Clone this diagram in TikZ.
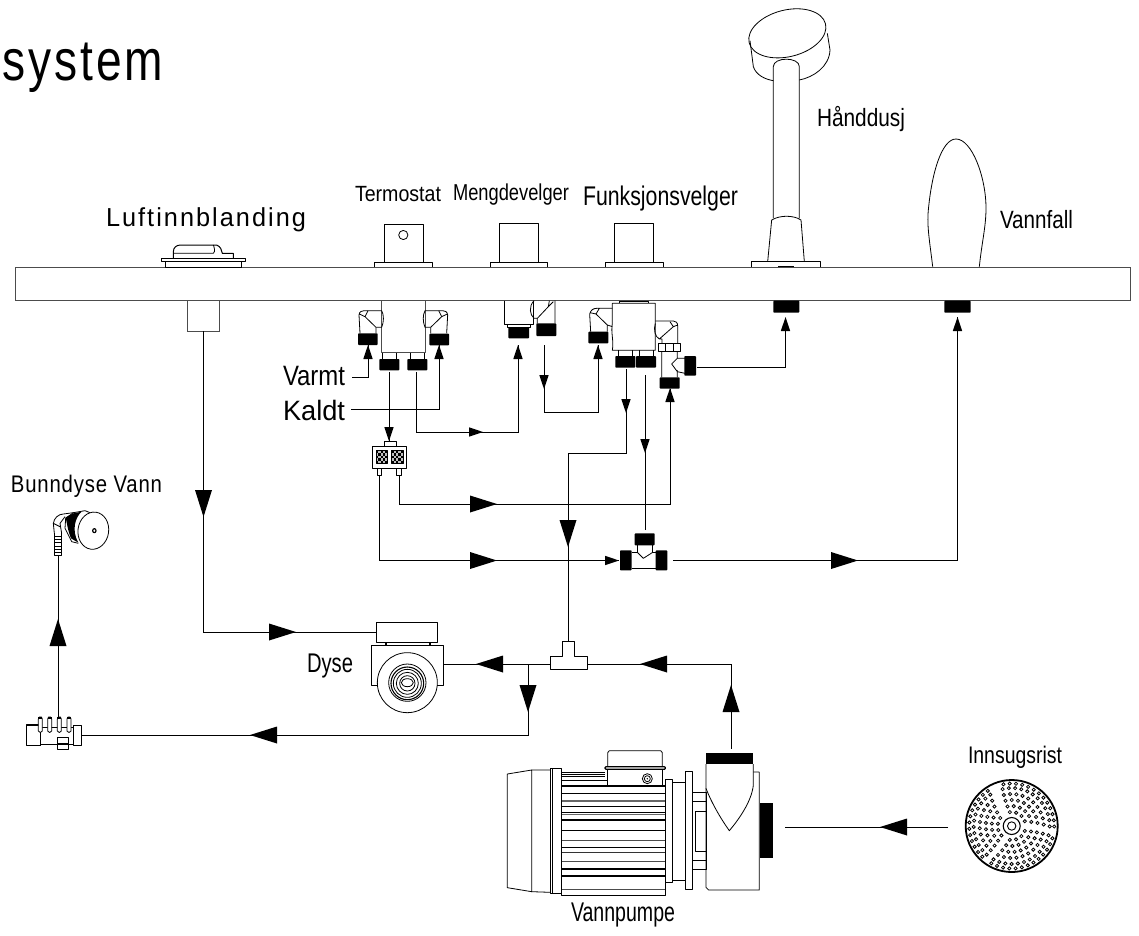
\documentclass[tikz,border=0pt]{standalone}
\usepackage{fontspec}
\setmainfont{Liberation Sans}
\usepackage{graphicx}
\newcommand{\lbl}[6][0]{\node[anchor=base west,inner sep=0pt,outer sep=0pt] (#2) at (#3) {\fontsize{#4}{#4}\selectfont\addfontfeature{LetterSpace=#1}\resizebox{#5pt}{\height}{#6}};}
\tikzset{
  conn/.style={line width=.85pt,black},
  part/.style={line width=.8pt,black,line join=round},
  barline/.style={line width=.9pt,black!70},
  nut/.style={fill=black,rounded corners=.8pt},
  fin/.style={line width=.9pt,black},
  bighead/.pic={\fill[black] (-27,-8.5)--(0,0)--(-27,8.5)--cycle;},
  smallhead/.pic={\fill[black] (-14,-4.7)--(0,0)--(-14,4.7)--cycle;},
  z/.style={shift={(#1)},scale=0.33333}
}
\begin{document}
\begin{tikzpicture}[x=1pt,y=-1pt]
\useasboundingbox (0,0) rectangle (1139,935);
% ---------- texts
\lbl[6]{tsys}{3,80}{58}{160}{system}
\lbl[8]{tluft}{106,226}{26}{200}{Luftinnblanding}
\lbl{tterm}{355,201}{22}{86}{Termostat}
\lbl{tmeng}{453,200}{23}{116}{Mengdevelger}
\lbl{tfunk}{583,205}{27}{155}{Funksjonsvelger}
\lbl{thand}{817,126}{25}{88}{Hånddusj}
\lbl{tvann}{1000,228}{25}{73}{Vannfall}
\lbl{tvarm}{283,385}{28}{62}{Varmt}
\lbl{tkald}{283,420}{28}{62}{Kaldt}
\lbl[4]{tbunn}{11,492}{24}{151}{Bunndyse Vann}
\lbl{tdyse}{307,672}{27}{46}{Dyse}
\lbl{tinns}{968,763}{24}{94}{Innsugsrist}
\lbl{tpump}{571,921}{27}{104}{Vannpumpe}
% ---------- deck
\draw[barline] (1130,267) -- (15,267) -- (15,300.7) -- (1130,300.7) -- cycle;
% ---------- air inlet
\begin{scope}[z={150,230}]
\draw[part,fill=white] (34,86) rectangle (286,94);
\draw[part] (47,94) rectangle (274,112);
\draw[part,line width=1pt] (70,86) -- (70,65) .. controls (70,52) and (80,45) .. (92,45) -- (200,45) .. controls (212,50) and (215,60) .. (217,70) -- (250,70) -- (250,86);
\draw[part] (70,70) -- (190,70) .. controls (197,65) and (192,50) .. (190,45);
\draw[barline] (113,212) -- (113,303) -- (207,303) -- (207,212);
\end{scope}
\coordinate (airout) at (203.5,331);
% ---------- knobs
\begin{scope}[part]
\draw (384,262) -- (384,224) -- (423,224) -- (423,262);
\draw (374,267) -- (374,262) -- (432,262) -- (432,267);
\draw (403.3,235) circle (4.6);
\draw (499,262) -- (499,223) -- (538,223) -- (538,262);
\draw (490,267) -- (490,262) -- (547,262) -- (547,267);
\draw (614,262) -- (614,223) -- (653,223) -- (653,262);
\draw (605,267) -- (605,262) -- (663,262) -- (663,267);
\end{scope}
% ---------- valves (zoom 340,190)
\begin{scope}[z={340,190}]
% Termostat
\draw[part,barline] (125,332) -- (125,488) -- (256,488) -- (256,332);
\draw[part] (128,488) -- (128,507) (170,488) -- (170,507) (212,488) -- (212,507) (252,488) -- (252,507);
\draw[part] (60,430) -- (57,375) .. controls (58,365) and (65,362) .. (72,362) -- (125,362) .. controls (132,375) and (132,395) .. (125,412) -- (108,412) -- (75,380) -- (58,372);
\draw[part] (75,380) -- (84,362) (108,412) -- (108,430);
\draw[part] (320,430) -- (323,375) .. controls (322,365) and (315,362) .. (308,362) -- (255,362) .. controls (248,375) and (248,395) .. (255,412) -- (272,412) -- (305,380) -- (322,372);
\draw[part] (305,380) -- (296,362) (272,412) -- (272,430);
\fill[nut] (54,430) rectangle (113,465);
\fill[nut] (268,431) rectangle (327,466);
\fill[nut] (118,507) rectangle (178,541);
\fill[nut] (202,507) rectangle (262,541);
% Mengdevelger
\draw[part] (492,332) -- (492,403) -- (579,403) -- (579,332);
\draw[part] (503,403) -- (503,412) -- (570,412) -- (570,403);
\fill[nut] (505,412) rectangle (567,445);
\draw[part] (582,332) .. controls (565,350) and (570,375) .. (582,385) -- (592,385) -- (592,400) (592,385) -- (625,350) -- (640,335) (645,332) -- (645,400) (625,350) -- (628,332);
\fill[nut] (589,400) rectangle (649,438);
% Funksjonsvelger
\draw[part] (838,340) -- (838,333) -- (925,333) -- (925,340);
\draw[part] (817,340) -- (946,340) -- (946,481) -- (817,481) .. controls (822,450) and (812,430) .. (817,400) -- cycle;
\draw[part] (835,481) -- (835,498) (877,481) -- (877,498) (898,481) -- (898,498) (940,481) -- (940,498);
\fill[nut] (826,498) rectangle (886,533);
\fill[nut] (888,498) rectangle (948,533);
\draw[part] (752,425) -- (749,372) .. controls (752,360) and (760,355) .. (770,355) -- (817,355) (817,410) -- (802,405) -- (768,372) -- (750,368) (768,372) -- (778,355) (802,405) -- (802,425);
\fill[nut] (745,425) rectangle (805,460);
\draw[part] (946,393) -- (1000,393) .. controls (1008,393) and (1013,398) .. (1013,408) -- (1013,460);
\draw[part] (946,400) .. controls (940,420) and (945,440) .. (958,447) -- (966,447) -- (966,460) (958,447) -- (1000,410) -- (1013,405) (1000,410) -- (990,395);
\draw[part] (955,460) rectangle (1022,485);
\draw[part] (977,460) -- (977,485) (1001,460) -- (1001,485);
\draw[part] (965,485) -- (965,562) (1012,485) -- (1012,505) -- (1035,505) (1012,540) -- (1012,562) (1012,505) -- (995,522) -- (1012,545) -- (1035,550);
\fill[nut] (959,562) rectangle (1019,596);
\fill[nut] (1033,498) rectangle (1068,557);
% divider
\draw[part] (97,768) rectangle (200,835);
\draw[part] (132,768) -- (132,755) -- (168,755) -- (168,768);
\draw[part] (113,835) -- (113,857) -- (125,857) -- (125,835);
\draw[part] (170,835) -- (170,857) -- (183,857) -- (183,835);
\foreach \ox in {108,154}{
  \fill[black!25] (\ox,782) rectangle ++(35,38);
  \draw[part] (\ox,782) rectangle ++(35,38);
  \foreach \i in {0,1,2,3,4}{\foreach \j in {0,1,2,3,4}{
    \pgfmathparse{int(mod(\i+\j,2))}
    \ifnum\pgfmathresult=0 \fill[black] (\ox+\i*7,782+\j*7.6) rectangle ++(7,7.6);\fi}}
}
\end{scope}
% ---------- hand shower and waterfall (zoom 730,0)
\begin{scope}[z={730,0}]
\draw[part] (65,800) -- (65,785) -- (272,785) -- (272,800);
\fill (145,798) rectangle (193,802);
\draw[part] (113,785) -- (125,660) .. controls (150,645) and (190,645) .. (213,660) -- (223,785);
\draw[part] (130,655) -- (130,200) .. controls (130,170) and (208,170) .. (208,200) -- (208,655);
\draw[part] (172,100) ellipse[x radius=118,y radius=70,rotate=14];
\draw[part] (60,122) -- (70,200) .. controls (78,225) and (105,238) .. (130,242);
\draw[part] (292,100) -- (300,150) .. controls (298,200) and (250,232) .. (208,240);
\draw[part] (608,800) .. controls (600,730) and (590,680) .. (595,630) .. controls (605,520) and (635,417) .. (678,417) .. controls (725,417) and (768,530) .. (768,625) .. controls (768,680) and (755,730) .. (748,800);
\fill[nut] (130,902) rectangle (208,938);
\fill[nut] (643,902) rectangle (722,938);
\end{scope}
% ---------- tee at 630,550 (zoom 590,490)
\begin{scope}[z={590,490}]
\draw[part] (125,187) -- (142,187) -- (142,166) (188,166) -- (188,187) -- (197,187) (125,235) -- (197,235);
\draw[part] (142,187) -- (160,205) -- (188,187);
\fill[nut] (134,130) rectangle (194,166);
\fill[nut] (90,181) rectangle (125,241);
\fill[nut] (197,181) rectangle (232,241);
\end{scope}
% ---------- branch tee (zoom 530,630)
\begin{scope}[z={530,630}]
\draw[part] (98,80) -- (98,33) -- (132,33) -- (132,80) -- (172,80) -- (172,118) -- (62,118) -- (62,80) -- cycle;
\end{scope}
% ---------- nozzle (zoom 365,615)
\begin{scope}[z={365,615}]
\draw[part] (33,22) rectangle (218,82);
\draw[part] (60,82) -- (60,92) (197,82) -- (197,92) (65,82) -- (65,92) (192,82) -- (192,92);
\draw[part] (38,210) -- (20,210) -- (20,92) -- (235,92) -- (235,210) -- (216,210);
\draw[part] (127,203) circle (90);
\draw[part] (127,203) circle (56);
\draw[part,line width=1.1pt] (127,205) circle (49);
\draw[part] (127,205) circle (42);
\draw[part] (127,205) circle (33);
\draw[part] (127,205) circle (23);
\draw[part] (127,203) ellipse[x radius=18,y radius=12];
\end{scope}
% ---------- header (zoom 15,705)
\begin{scope}[z={15,705}]
\draw[part,line width=1.2pt] (76,60) -- (34,60) -- (34,122) -- (76,122);
\draw[part] (76,60) -- (76,122);
\draw[part] (76,118) -- (175,118) (76,66) -- (175,66);
\draw[part] (175,62) rectangle (200,122);
\foreach \x in {76,104,133,162}{\draw[part,fill=white] (\x-6,78) -- (\x-6,42) -- (\x-3,36) -- (\x+3,36) -- (\x+6,42) -- (\x+6,78) .. controls (\x+4,84) and (\x-4,84) .. (\x-6,78) -- cycle; \fill (\x-6,36) rectangle (\x+6,43);}
\draw[part,fill=white] (127,97) rectangle (160,133);
\fill (127,113) rectangle (160,120);
\end{scope}
% ---------- floor jet (zoom 45,500)
\begin{scope}[z={45,500}]
\draw[part] (28,100) -- (25,70) .. controls (27,55) and (40,42) .. (55,42) -- (85,38) -- (120,32) -- (135,38);
\draw[part] (50,100) -- (45,70) -- (60,50);
\draw[part] (25,70) -- (45,80);
\draw[part] (28,100) -- (28,165) -- (50,165) -- (50,100);
\foreach \y in {108,118,128,138,148,158}{\draw[part] (28,\y) -- (50,\y);}
\draw[part] (60,85) -- (62,55) -- (85,38) (60,85) -- (80,125) -- (100,130);
\fill (62,52) -- (85,40) -- (110,35) .. controls (92,50) and (78,90) .. (100,128) -- (78,115) .. controls (68,90) and (66,70) .. (62,52) -- cycle;
\draw[part,fill=white] (145,92) ellipse[x radius=46,y radius=56,rotate=-8];
\draw[part,line width=1.2pt] (148,92) ellipse[x radius=5,y radius=6];
\end{scope}
% ---------- strainer
\begin{scope}[shift={(1011.7,826)}]
\draw[line width=1.8pt] (0,0) circle (46);
\draw[line width=1.1pt] (0,0) circle (8.5);
\draw[line width=.9pt] (0,0) circle (4.2);
\foreach \b in {55,172,297}{
 \foreach \r/\n in {14/4,20/6,26/8,32/10,38/12,42.5/13}{
  \pgfmathsetmacro\top{\n-1}
  \foreach \i in {0,...,\top}{
   \pgfmathsetmacro\ang{\b+\r*0.3+(\i-(\n-1)/2)*361/\r}
   \draw[line width=.8pt] (\ang:\r) circle (1.6);
  }}}
\end{scope}
% ---------- pump (zoom 480,680)
\begin{scope}[z={480,680}]
\draw[part] (82,282) -- (155,270) -- (155,635) -- (82,623) -- cycle;
\draw[part] (155,270) -- (212,270) (155,635) -- (212,637);
\draw[part] (212,265) rectangle (245,640);
\draw[part] (218,265) -- (218,640);
\draw[part] (245,277) -- (375,277);
\draw[part] (245,283) -- (375,283) (245,290) -- (375,290) (245,300) -- (383,300);
\draw[part] (245,277) -- (245,645) -- (556,645) -- (556,318);
\draw[line width=1.3pt] (245,318) -- (556,318);
\foreach \y/\w/\c in {340/1.1/black,363/1.3/black!60,380/.9/black,397/.9/black,403/1/black!60,420/1.1/black,452/1.1/black,482/1.4/black!70,503/.9/black,517/1.1/black!80,545/1.1/black!70,567/1.1/black,588/1.3/black,628/1.4/black!70}{
  \draw[line width=\w pt,\c] (245,\y) -- (556,\y);}
\draw[part] (383,316) -- (383,262) (547,316) -- (547,262);
\draw[part] (383,260) -- (383,218) -- (388,212) -- (542,212) -- (547,218) -- (547,260);
\draw[part,line width=1.2pt,fill=white,rounded corners=1pt] (375,260) rectangle (556,268);
\draw[part] (502,296) circle (15);
\draw[part] (502,296) circle (9);
\fill (502,296) circle (2.5);
\draw[part] (556,298) rectangle (578,606);
\draw[part] (578,306) rectangle (617,600);
\draw[part] (617,275) rectangle (638,628);
\draw[part] (638,338) rectangle (678,568);
\draw[part] (638,365) -- (678,365) (638,540) -- (678,540);
\draw[part] (647,393) rectangle (678,513);
\draw[part] (838,276) -- (820,276) (838,276) -- (838,630) -- (686,630) -- (678,622) -- (678,252);
\draw[part] (820,252) -- (820,315) .. controls (815,365) and (775,420) .. (748,452) .. controls (725,420) and (695,370) .. (678,325);
\fill (678,220) rectangle (820,252);
\fill (840,370) rectangle (880,533);
\end{scope}
% ---------- connector anchor points
\coordinate (varmtS) at (352,377);   \coordinate (varmtE) at (368,345);
\coordinate (kaldtS) at (351,409);   \coordinate (kaldtE) at (439,345);
\coordinate (tnutA) at (389,372);    \coordinate (divT) at (389,441);
\coordinate (tnutB) at (416,372);    \coordinate (mengIn) at (518,345);
\coordinate (mengOut) at (544,345);  \coordinate (funkIn) at (598,345);
\coordinate (funkA) at (626,369);    \coordinate (funkB) at (645,375);
\coordinate (teeTop) at (645,530);   \coordinate (funkC) at (670,389);
\coordinate (divL) at (379,476);     \coordinate (divR) at (399,476);
\coordinate (teeL) at (619,560.5);   \coordinate (teeR) at (673,560.5);
\coordinate (vann) at (957.5,317);   \coordinate (hand) at (785.5,322);
\coordinate (mixOut) at (697,367);
\coordinate (branchTop) at (568,641);\coordinate (branchL) at (551,664);
\coordinate (branchR) at (587,664);  \coordinate (pumpOut) at (731,749);
\coordinate (intake) at (785,827);   \coordinate (grille) at (948,827);
\coordinate (dyseR) at (444,664);    \coordinate (dyseT) at (376,632);
\coordinate (junc) at (528,664);     \coordinate (hdrR) at (82,735);
\coordinate (hdrT) at (58,717);      \coordinate (jetB) at (58,555);
% ---------- connectors
\begin{scope}[conn]
\draw (varmtS) -| (varmtE);
\draw (kaldtS) -| (kaldtE);
\draw (tnutA) -- (divT);
\draw (tnutB) |- (500,432) -| (mengIn);
\draw (mengOut) |- (598,412) -- (funkIn);
\draw (funkA) |- (568,453) -- (branchTop);
\draw (funkB) -- (teeTop);
\draw (divR) |- (670,504) -- (funkC);
\draw (divL) |- (teeL);
\draw (teeR) -| (vann);
\draw (mixOut) -| (hand);
\draw (airout) |- (dyseT);
\draw (branchL) -- (dyseR);
\draw (branchR) -| (pumpOut);
\draw (grille) -- (intake);
\draw (junc) |- (hdrR);
\draw (hdrT) -- (jetB);
\end{scope}
% ---------- arrowheads
\foreach \p/\r in {{203.5,517}/270,{296,632}/0,{568,547}/270,{497,504}/0,{497,560.5}/0,{858,560.5}/0,{640,664}/180,{476,664}/180,{528,712}/270,{250,735}/180,{58,619}/90,{731,685}/90,{880,827}/180}{
  \pic[rotate=\r] at (\p) {bighead};}
\foreach \p/\r in {{368,345}/90,{439,345}/90,{389,441}/270,{483,432}/0,{518,345}/90,{544,389}/270,{598,345}/90,{626,413}/270,{645,453}/270,{670,388}/90,{619,560.5}/0,{785.5,317}/90,{957.5,317}/90}{
  \pic[rotate=\r] at (\p) {smallhead};}
\end{tikzpicture}
\end{document}
